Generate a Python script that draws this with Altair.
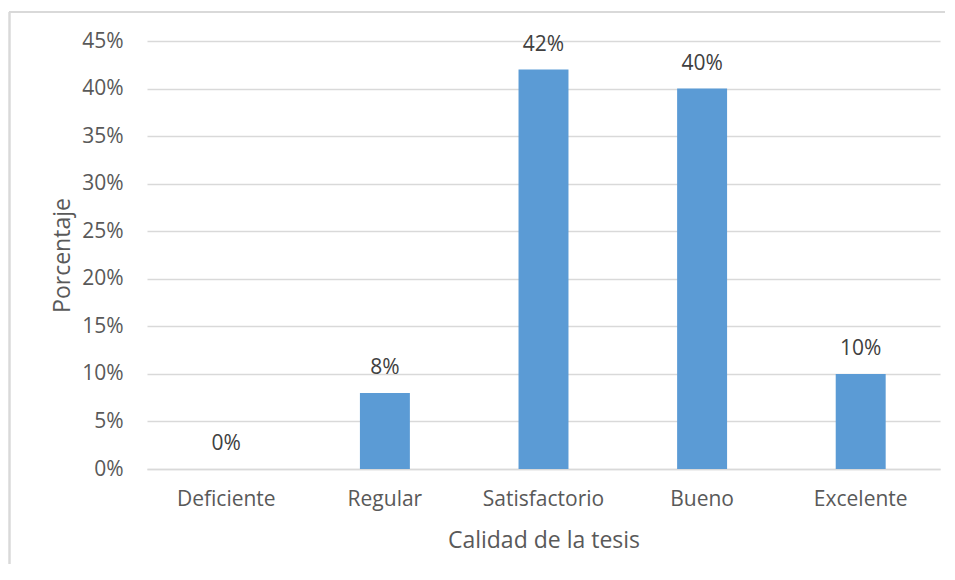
import altair as alt
import pandas as pd

categorias = ["Deficiente", "Regular", "Satisfactorio", "Bueno", "Excelente"]
porcentajes = [0.0, 0.08, 0.42, 0.40, 0.10]
etiquetas = ["0%", "8%", "42%", "40%", "10%"]
y_ticks = [0, 0.05, 0.10, 0.15, 0.20, 0.25, 0.30, 0.35, 0.40, 0.45]

df = pd.DataFrame({"cat": categorias, "val": porcentajes, "lab": etiquetas})

FONT = "Open Sans"
GRAY = "#595959"

x_enc = alt.X(
    "cat:N",
    sort=categorias,
    scale=alt.Scale(paddingInner=0.685, paddingOuter=0.3425),
    axis=alt.Axis(
        title="Calidad de la tesis",
        labelAngle=0,
        labelFont=FONT,
        labelFontSize=21,
        labelColor=GRAY,
        labelPadding=19,
        ticks=False,
        grid=False,
        domain=True,
        domainColor="#D9D9D9",
        domainWidth=1.5,
        titleFont=FONT,
        titleFontSize=23,
        titleFontWeight="normal",
        titleColor=GRAY,
        titleY=71,
        titleBaseline="middle",
    ),
)

y_enc = alt.Y(
    "val:Q",
    scale=alt.Scale(domain=[0, 0.45], nice=False),
    axis=alt.Axis(
        title="Porcentaje",
        values=y_ticks,
        format=".0%",
        labelFont=FONT,
        labelFontSize=21,
        labelColor=GRAY,
        labelPadding=24,
        ticks=False,
        domain=False,
        grid=True,
        gridColor="#D9D9D9",
        gridWidth=1.5,
        titleFont=FONT,
        titleFontSize=23,
        titleFontWeight="normal",
        titleColor=GRAY,
        titleAngle=-90,
        titleX=-85,
        titleY=214,
        titleAlign="center",
        titleBaseline="middle",
    ),
)

bars = alt.Chart(df).mark_bar(color="#5B9BD5").encode(x=x_enc, y=y_enc)

labels = alt.Chart(df).mark_text(
    font=FONT, fontSize=21, color="#404040", baseline="middle", dy=-25
).encode(x=x_enc, y=y_enc, text="lab:N")

frame_left = alt.Chart(df).mark_rule(color="#D9D9D9", strokeWidth=1.5, clip=False).encode(
    x=alt.value(-137.5), y=alt.value(-29), y2=alt.value(700)
)
frame_top = alt.Chart(df).mark_rule(color="#D9D9D9", strokeWidth=1.5, clip=False).encode(
    x=alt.value(-138), x2=alt.value(900), y=alt.value(-29)
)

chart = (
    alt.layer(frame_left, frame_top, bars, labels)
    .properties(
        width=793,
        height=428,
        background="white",
        autosize=alt.AutoSizeParams(type="none"),
        padding={"left": 139, "top": 33, "right": 5, "bottom": 95},
    )
    .configure_view(strokeWidth=0, stroke="transparent")
    .configure_axis(domain=False, grid=False)
)

chart.save("out.html", embed_options={"renderer": "svg", "actions": False})
